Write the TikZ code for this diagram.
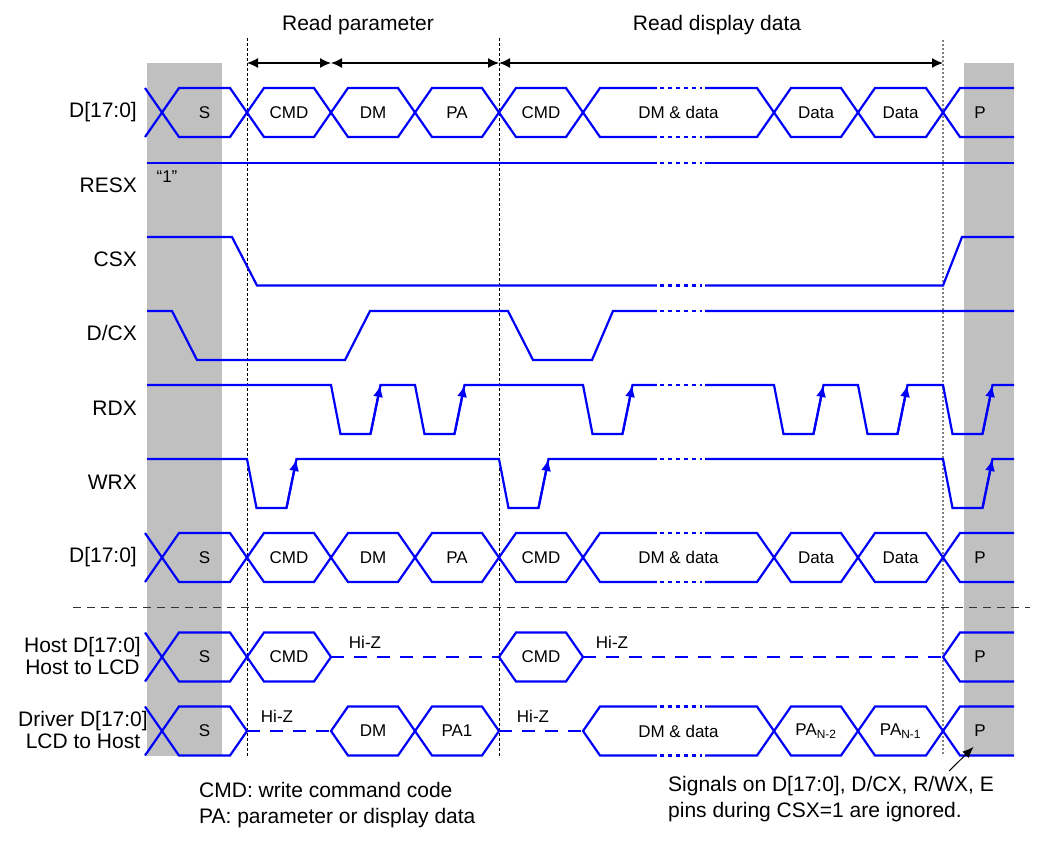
\documentclass[tikz,border=0pt]{standalone}
\usepackage{fontspec}
\setmainfont{Liberation Sans}
\usetikzlibrary{
  arrows.meta,
  calc,
  positioning,
}
\definecolor{sigblue}{RGB}{0,0,250}
\definecolor{bandgray}{RGB}{192,192,192}
\tikzset{
  x=1pt,
  y=-1pt,
  sig/.style={draw=sigblue, line width=2.2pt},
  hiz/.style={sig, dash pattern=on 13pt off 10pt},
  dots/.style={sig, dash pattern=on 4pt off 4pt},
  guide/.style={draw=black, line width=0.8pt, dash pattern=on 3pt off 2pt},
  sep/.style={draw=black!80, line width=1pt, dash pattern=on 8pt off 6pt},
  span/.style={draw=black, line width=1.3pt, {Latex[length=11pt,width=10pt]}-{Latex[length=11pt,width=10pt]}},
  rise/.style={sig, -{Latex[length=12pt,width=10pt]}},
  callout/.style={draw=black, line width=1pt, -{Latex[length=11pt,width=9pt]}},
  big/.style={font=\fontsize{21}{22}\selectfont, inner sep=0pt},
  ttl/.style={big},
  row/.style={big, anchor=east},
  two/.style={big, align=center},
  note/.style={font=\fontsize{21}{26}\selectfont, inner sep=0pt, align=left, anchor=west},
  cell/.style={font=\fontsize{17}{20}\selectfont, inner sep=0pt},
}
% one bus value between two crossings
\newcommand{\buscell}[5]{%
  \draw[sig] (#2,#4) -- (#2+17,#4-24.5) -- (#3-17,#4-24.5) -- (#3,#4)
    -- (#3-17,#4+24.5) -- (#2+17,#4+24.5) -- cycle;
  \node[cell](#1) at ({(#2+#3)/2},#4){#5};}
% half crossings at both ends of a bus
\newcommand{\busends}[1]{%
  \draw[sig] (145,#1-24.5) -- (162,#1) -- (145,#1+24.5);
  \draw[sig] (1014,#1-24.5) -- (960,#1-24.5) -- (943,#1) -- (960,#1+24.5) -- (1014,#1+24.5);}

\begin{document}
\begin{tikzpicture}
  \useasboundingbox (0,0) rectangle (1041,847);
  %% CSX=1 zones
  \fill[bandgray] (147,63) rectangle (222,756);
  \fill[bandgray] (964,63) rectangle (1014,756);
  %% phase guides
  \draw[guide] (247,38) -- (247,756);
  \draw[guide] (499,38) -- (499,756);
  \draw[guide, draw=gray, line width=1.2pt, dash pattern=on 2pt off 2pt] (943,40) -- (943,756);
  \draw[sep] (73,607) -- (1030,607);
  %%
  \node[ttl](ttlParam) at (358,25){Read parameter};
  \node[ttl](ttlData) at (717,25){Read display data};
  \coordinate (mA) at (247,63);
  \coordinate (mB) at (331,63);
  \coordinate (mC) at (499,63);
  \coordinate (mD) at (943,63);
  \draw[span] (mA) -- (mB);
  \draw[span] (mB) -- (mC);
  \draw[span] (mC) -- (mD);
  %% row labels
  \node[row](lblD) at (137,112){D[17:0]};
  \node[row](lblRESX) at (137,185){RESX};
  \node[row](lblCSX) at (137,259){CSX};
  \node[row](lblDCX) at (137,333){D/CX};
  \node[row](lblRDX) at (137,408){RDX};
  \node[row](lblWRX) at (137,482){WRX};
  \node[row](lblDb) at (137,557){D[17:0]};
  \node[two](lblHost) at (82.5,656){Host D[17:0]\\Host to LCD};
  \node[two](lblDrv) at (83,730){Driver D[17:0]\\LCD to Host};
  %% D[17:0]
  \busends{112.5}
  \buscell{aS}{162}{247}{112.5}{S}
  \buscell{aCmd}{247}{331}{112.5}{CMD}
  \buscell{aDm}{331}{415}{112.5}{DM}
  \buscell{aPa}{415}{499}{112.5}{PA}
  \buscell{aCmdB}{499}{583}{112.5}{CMD}
  \buscell{aDmd}{583}{774}{112.5}{DM \& data}
  \buscell{aDat}{774}{858}{112.5}{Data}
  \buscell{aDatB}{858}{943}{112.5}{Data}
  \node[cell](aP) at (980,112.5){P};
  %% RESX
  \draw[sig] (147,162.7) -- (1014,162.7);
  \node[cell](one) at (167,177){“1”};
  %% CSX
  \draw[sig] (147,237) -- (232,237) -- (257,285.5) -- (943,285.5) -- (962,237) -- (1014,237);
  %% D/CX
  \draw[sig] (147,311) -- (172,311) -- (197,360) -- (345,360) -- (370,311) -- (508,311)
    -- (533,360) -- (592,360) -- (613,311) -- (1014,311);
  %% RDX
  \draw[sig] (147,385) \foreach \t in {331,415,583,774,858,943}{
    -- (\t,385) -- (\t+9.5,434) -- (\t+39.5,434) -- (\t+49.5,385)} -- (1014,385);
  \foreach \t in {331,415,583,774,858,943}
    \draw[rise] (\t+39.5,434) -- (\t+49.5,385);
  %% WRX
  \draw[sig] (147,459) \foreach \t in {247,499,943}{
    -- (\t,459) -- (\t+9.5,508) -- (\t+39.5,508) -- (\t+49.5,459)} -- (1014,459);
  \foreach \t in {247,499,943}
    \draw[rise] (\t+39.5,508) -- (\t+49.5,459);
  %% D[17:0] again
  \busends{557.5}
  \buscell{bS}{162}{247}{557.5}{S}
  \buscell{bCmd}{247}{331}{557.5}{CMD}
  \buscell{bDm}{331}{415}{557.5}{DM}
  \buscell{bPa}{415}{499}{557.5}{PA}
  \buscell{bCmdB}{499}{583}{557.5}{CMD}
  \buscell{bDmd}{583}{774}{557.5}{DM \& data}
  \buscell{bDat}{774}{858}{557.5}{Data}
  \buscell{bDatB}{858}{943}{557.5}{Data}
  \node[cell](bP) at (980,557.5){P};
  %% host drives
  \busends{657}
  \buscell{hS}{162}{247}{657}{S}
  \buscell{hCmd}{247}{331}{657}{CMD}
  \buscell{hCmdB}{499}{583}{657}{CMD}
  \draw[hiz] (331,657) -- (499,657);
  \draw[hiz] (583,657) -- (943,657);
  \node[cell](hP) at (980,657){P};
  \node[cell](hizA) at (365,642){Hi-Z};
  \node[cell](hizB) at (612,642){Hi-Z};
  %% driver drives
  \busends{731}
  \buscell{dS}{162}{247}{731}{S}
  \buscell{dDm}{331}{415}{731}{DM}
  \buscell{dPa}{415}{499}{731}{PA1}
  \buscell{dDmd}{583}{774}{731}{DM \& data}
  \buscell{dPaA}{774}{858}{731}{PA\textsubscript{N-2}}
  \buscell{dPaB}{858}{943}{731}{PA\textsubscript{N-1}}
  \draw[hiz] (247,731) -- (331,731);
  \draw[hiz] (499,731) -- (583,731);
  \node[cell](dP) at (980,731){P};
  \node[cell](hizC) at (277,716){Hi-Z};
  \node[cell](hizD) at (533,716){Hi-Z};
  %% breaks in the long stretch
  \foreach \y in {88,137,162.7,285.5,311,385,459,533,582,706.5,755.5}{
    \draw[white, line width=4pt] (657,\y) -- (705,\y);
    \draw[dots] (660,\y) -- (702,\y);
  }
  %% notes
  \node[note](noteCmd) at (199,805){CMD: write command code\\PA: parameter or display data};
  \node[note](noteSig) at (668,799){Signals on D[17:0], D/CX, R/WX, E\\pins during CSX=1 are ignored.};
  \coordinate (ntail) at (949,771);
  \coordinate (ntip) at (973.5,747);
  \draw[callout] (ntail) -- (ntip);
\end{tikzpicture}
\end{document}
